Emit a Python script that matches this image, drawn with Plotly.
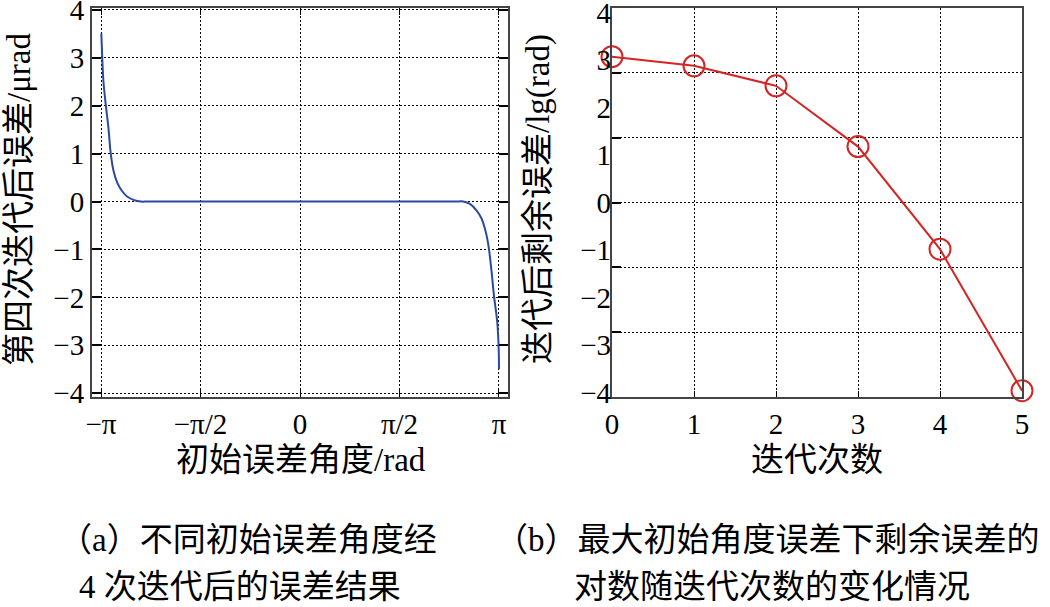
import numpy as np
import plotly.graph_objects as go

# (a) 第四次迭代后误差 vs 初始误差角度
angle = [-3.137, -3.122, -3.103, -3.065, -3.026, -2.988, -2.947, -2.884, -2.804, -2.725,
         -2.619, -2.513, -2.40, 0.0, 2.45, 2.577, 2.683, 2.789, 2.868, 2.920, 2.957,
         2.984, 3.026, 3.063, 3.115, 3.137, 3.142]
err4 = [3.51, 3.0, 2.5, 2.0, 1.56, 1.0, 0.66, 0.39, 0.21, 0.10,
        0.03, 0.0, 0.0, 0.0, 0.0, 0.0, -0.05, -0.19, -0.36, -0.57, -0.78,
        -1.0, -1.48, -1.97, -2.53, -3.08, -3.5]
angle_ticks = [-np.pi, -np.pi / 2, 0, np.pi / 2, np.pi]
angle_labels = ["−π", "−π/2", "0", "π/2", "π"]

# (b) 剩余误差对数 vs 迭代次数
iters = [0, 1, 2, 3, 4, 5]
log_err = [3.00, 2.81, 2.40, 1.15, -0.96, -3.87]
grid_b = [-4, -8 / 3, -4 / 3, 0, 4 / 3, 8 / 3, 4]
label_b = [-4, -3, -2, -1, 0, 1, 2, 3, 4]

W, H = 1050, 607
FONT = "Liberation Serif, Noto Sans CJK SC, serif"


def px(x):
    return x / W


def py(y):
    return 1 - y / H


fig = go.Figure()

fig.add_trace(go.Scatter(x=angle, y=err4, mode="lines",
                         line=dict(color="#2B4A9F", width=2, shape="spline", smoothing=1),
                         xaxis="x", yaxis="y", showlegend=False))

fig.add_trace(go.Scatter(x=iters, y=log_err, mode="lines+markers",
                         line=dict(color="#D42424", width=2),
                         marker=dict(symbol="circle-open", size=21, color="#D42424",
                                     line=dict(width=2)),
                         cliponaxis=False,
                         xaxis="x2", yaxis="y2", showlegend=False))

ydom = [py(397), py(8)]
tick_font = dict(family=FONT, size=29, color="black")
axis_common = dict(showline=True, linecolor="#444", linewidth=2,
                   showgrid=True, gridcolor="black", griddash="2px,2px", gridwidth=1.3,
                   zeroline=False, tickfont=tick_font, ticklabeloverflow="allow",
                   automargin=False)

fig.update_layout(
    width=W, height=H,
    margin=dict(l=0, r=0, t=0, b=0),
    paper_bgcolor="white", plot_bgcolor="white",
    font=dict(family=FONT, color="black"),
    xaxis=dict(axis_common, domain=[px(92), px(508)], range=[-3.284, 3.284],
               tickvals=angle_ticks, ticktext=angle_labels,
               ticks="inside", ticklen=7, tickcolor="black", mirror="ticks", anchor="y"),
    yaxis=dict(axis_common, domain=ydom, range=[-4.08, 4.04],
               tickvals=list(range(-4, 5)),
               ticks="inside", ticklen=9, tickwidth=2, tickcolor="black", mirror="ticks",
               anchor="x"),
    xaxis2=dict(axis_common, domain=[px(612), px(1022)], range=[0, 5],
                tickvals=iters, ticks="inside", ticklen=6, tickcolor="black",
                mirror=True, anchor="y2"),
    yaxis2=dict(axis_common, domain=ydom, range=[-4, 4],
                tickvals=grid_b, showticklabels=False,
                ticks="inside", ticklen=9, tickwidth=2, tickcolor="black",
                mirror=True, anchor="x2"),
    yaxis3=dict(overlaying="y2", anchor="x2", side="left", range=[-4.09, 4.1],
                tickvals=label_b, showgrid=False, zeroline=False, showline=False,
                ticks="", tickfont=tick_font, ticklabeloverflow="allow",
                automargin=False),
)

# empty trace so the label axis of (b) is drawn
fig.add_trace(go.Scatter(x=[], y=[], xaxis="x2", yaxis="y3", showlegend=False))

title_font = dict(family=FONT, size=33, color="black")
cap_font = dict(family=FONT, size=33, color="black")
notes = [
    ("第四次迭代后误差/μrad", 19, 200, -90, title_font),
    ("初始误差角度/rad", 301, 460, 0, title_font),
    ("迭代后剩余误差/lg(rad)", 539, 199, -90, title_font),
    ("迭代次数", 817, 460, 0, title_font),
    ("（a）不同初始误差角度经", 248, 540, 0, cap_font),
    ("4 次迭代后的误差结果", 240, 587, 0, cap_font),
    ("（b）最大初始角度误差下剩余误差的", 767, 540, 0, cap_font),
    ("对数随迭代次数的变化情况", 772, 587, 0, cap_font),
]
for text, x, y, ang, f in notes:
    fig.add_annotation(text=text, x=px(x), y=py(y), xref="paper", yref="paper",
                       xanchor="center", yanchor="middle", textangle=ang,
                       showarrow=False, font=f)

# drop the page's default body margin so the figure sits at the top-left corner
fig.write_html("out.html", config={"displayModeBar": False},
               post_script="document.body.style.margin = '0';")
